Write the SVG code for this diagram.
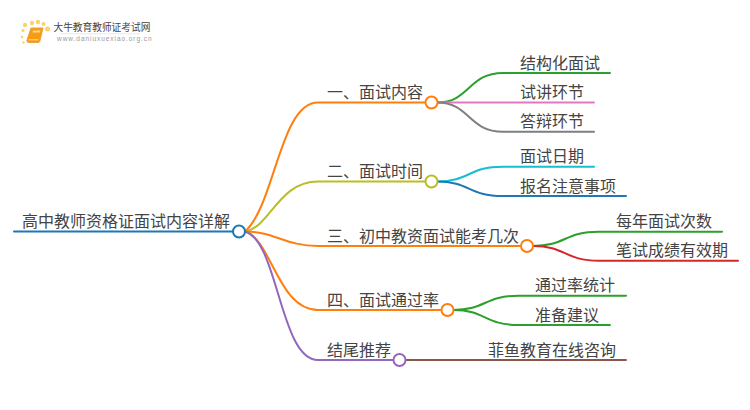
<svg xmlns="http://www.w3.org/2000/svg" width="750" height="410" viewBox="0 0 750 410">
<style>
text{font-family:"Noto Sans CJK SC","Noto Sans",sans-serif;font-size:16px;fill:#444}
path.c{fill:none;stroke-width:2;stroke-linecap:round}
circle.n{fill:#fff;stroke-width:2}
.org{stroke:#ff7f0e}.oli{stroke:#bcbd22}.pur{stroke:#9467bd}.blu{stroke:#1f77b4}.grn{stroke:#2ca02c}.pnk{stroke:#e377c2}.gry{stroke:#7f7f7f}.cyn{stroke:#17becf}.red{stroke:#d62728}.brn{stroke:#8c564b}
</style>
<rect width="750" height="410" fill="#fff"/>
<g id="logo">
<g fill="#fbd36b"><circle cx="25" cy="25" r="2.200"/><circle cx="32" cy="23" r="2.200"/><circle cx="38" cy="22" r="2.200"/><circle cx="43.500" cy="24" r="2"/><circle cx="47.500" cy="29" r="2.500"/><circle cx="23" cy="30.500" r="1.600"/><circle cx="22" cy="37" r="1.300"/><circle cx="23.500" cy="42.500" r="1.200"/></g>
<path d="M31 28H43L40 40.500C39.700 42 39 42.500 38 42.500H28.500C27 42.500 26.700 41 27 40Z" fill="#f79a16" stroke="#f0a030" stroke-width="1" stroke-linejoin="round"/>
<path d="M33 30.500H40.500L40 32.500H32.500Z" fill="#fcd98a"/>
<path d="M28.500 39.800H38.500" stroke="#fde2a8" stroke-width="1" fill="none"/>
<text x="53.500" y="31" style="font-size:9.700px;fill:#444">大牛教育教师证考试网</text>
<path d="M60 33.800H140" stroke="#e8e8e8" stroke-width="1" fill="none"/>
<text x="57" y="41" style="font-family:'Liberation Sans',sans-serif;font-size:6.500px;letter-spacing:.95px;fill:#999">www.daniuxuexiao.org.cn</text>
</g>
<g id="connectors">
<path class="c blu" d="M14 231.500H233"/>
<path class="c org" d="M245 231.500C275 205 280 102.500 318 102.500H425"/>
<path class="c oli" d="M245 231.500C270 228 278 181.500 318 181.500H425"/>
<path class="c org" d="M245 231.500C275 231.500 285 246 318 246H521"/>
<path class="c org" d="M245 231.500C272 240 278 310 318 310H441"/>
<path class="c pur" d="M245 231.500C278 240 280 360 318 360H393"/>
<path class="c grn" d="M437 102.500C470 102.500 468 73 503 73H610"/>
<path class="c pnk" d="M437 102.500H594"/>
<path class="c gry" d="M437 102.500C470 102.500 468 131.700 503 131.700H594"/>
<path class="c cyn" d="M437 181.500C470 181.500 468 166.700 503 166.700H594"/>
<path class="c blu" d="M437 181.500C470 181.500 468 196 503 196H626"/>
<path class="c grn" d="M533 246C566 246 564 231.700 599 231.700H722"/>
<path class="c red" d="M533 246C566 246 564 260.700 599 260.700H738"/>
<path class="c grn" d="M453 310C486 310 484 295.700 519 295.700H626"/>
<path class="c grn" d="M453 310C486 310 484 325 519 325H610"/>
<path class="c brn" d="M405 360H626"/>
</g>
<g id="root"><circle class="n blu" cx="239" cy="231.500" r="6"/><text x="22" y="227">高中教师资格证面试内容详解</text></g>
<g id="n1"><circle class="n org" cx="431.500" cy="102.500" r="6"/><text x="327" y="98">一、面试内容</text></g>
<g id="n2"><circle class="n oli" cx="431.500" cy="181.500" r="6"/><text x="327" y="177">二、面试时间</text></g>
<g id="n3"><circle class="n org" cx="527" cy="246" r="6"/><text x="327" y="241.500">三、初中教资面试能考几次</text></g>
<g id="n4"><circle class="n org" cx="447.500" cy="310" r="6"/><text x="327" y="305.500">四、面试通过率</text></g>
<g id="n5"><circle class="n pur" cx="399.500" cy="360" r="6"/><text x="327" y="355.500">结尾推荐</text></g>
<g id="n1a"><text x="520" y="69">结构化面试</text></g>
<g id="n1b"><text x="520" y="98">试讲环节</text></g>
<g id="n1c"><text x="520" y="127">答辩环节</text></g>
<g id="n2a"><text x="520" y="162">面试日期</text></g>
<g id="n2b"><text x="520" y="191.500">报名注意事项</text></g>
<g id="n3a"><text x="616" y="227">每年面试次数</text></g>
<g id="n3b"><text x="616" y="256">笔试成绩有效期</text></g>
<g id="n4a"><text x="535" y="291">通过率统计</text></g>
<g id="n4b"><text x="535" y="320.500">准备建议</text></g>
<g id="n5a"><text x="488" y="355.500">菲鱼教育在线咨询</text></g>
</svg>
